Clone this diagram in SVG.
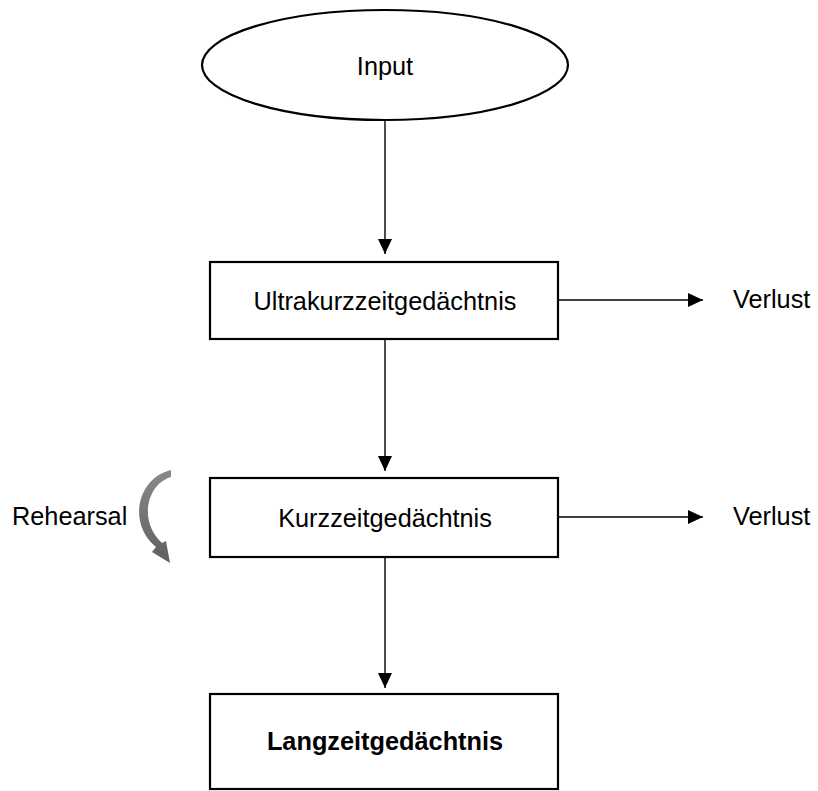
<svg xmlns="http://www.w3.org/2000/svg" width="818" height="791" viewBox="0 0 818 791">
<style>
text{font-family:"Liberation Sans",Arial,sans-serif;font-size:25.3px;fill:#000}
.c{text-anchor:middle}
.b{font-weight:bold}
.n{fill:#fff;stroke:#000;stroke-width:2.2}
.e{stroke:#000;stroke-width:1.4;fill:none}
</style>
<defs>
<marker id="ah" markerWidth="15" markerHeight="14" refX="15" refY="7" orient="auto" markerUnits="userSpaceOnUse">
<path d="M0,0 L15,7 L0,14 Z" fill="#000"/>
</marker>
<linearGradient id="rg" x1="0" y1="0" x2="0" y2="1">
<stop offset="0" stop-color="#8a8a8a"/>
<stop offset="1" stop-color="#5f5f5f"/>
</linearGradient>
</defs>
<rect width="818" height="791" fill="#fff"/>
<g id="connectors">
<line class="e" x1="385" y1="121" x2="385" y2="254" marker-end="url(#ah)"/>
<line class="e" x1="385" y1="340" x2="385" y2="471" marker-end="url(#ah)"/>
<line class="e" x1="385" y1="558" x2="385" y2="688" marker-end="url(#ah)"/>
<line class="e" x1="559" y1="300" x2="703" y2="300" marker-end="url(#ah)"/>
<line class="e" x1="559" y1="517" x2="703" y2="517" marker-end="url(#ah)"/>
</g>
<g id="input">
<ellipse class="n" cx="385" cy="65" rx="183" ry="55"/>
<text class="c" x="385" y="75">Input</text>
</g>
<g id="ultrakurzzeit">
<rect class="n" x="210" y="262" width="348" height="77"/>
<text class="c" x="385" y="310">Ultrakurzzeitgedächtnis</text>
</g>
<g id="kurzzeit">
<rect class="n" x="210" y="478" width="348" height="79"/>
<text class="c" x="385" y="527">Kurzzeitgedächtnis</text>
</g>
<g id="langzeit">
<rect class="n" x="210" y="694" width="348" height="95"/>
<text class="c b" x="385" y="750">Langzeitgedächtnis</text>
</g>
<g id="verlust1"><text x="733" y="308">Verlust</text></g>
<g id="verlust2"><text x="733" y="525">Verlust</text></g>
<g id="rehearsal">
<text x="12" y="525">Rehearsal</text>
<path d="M171 470 C139 477,126 522,156 547 L152 552 L170 563 L166 541 L162 543 C138 521,147 484,171 477 Z" fill="url(#rg)"/>
</g>
</svg>
